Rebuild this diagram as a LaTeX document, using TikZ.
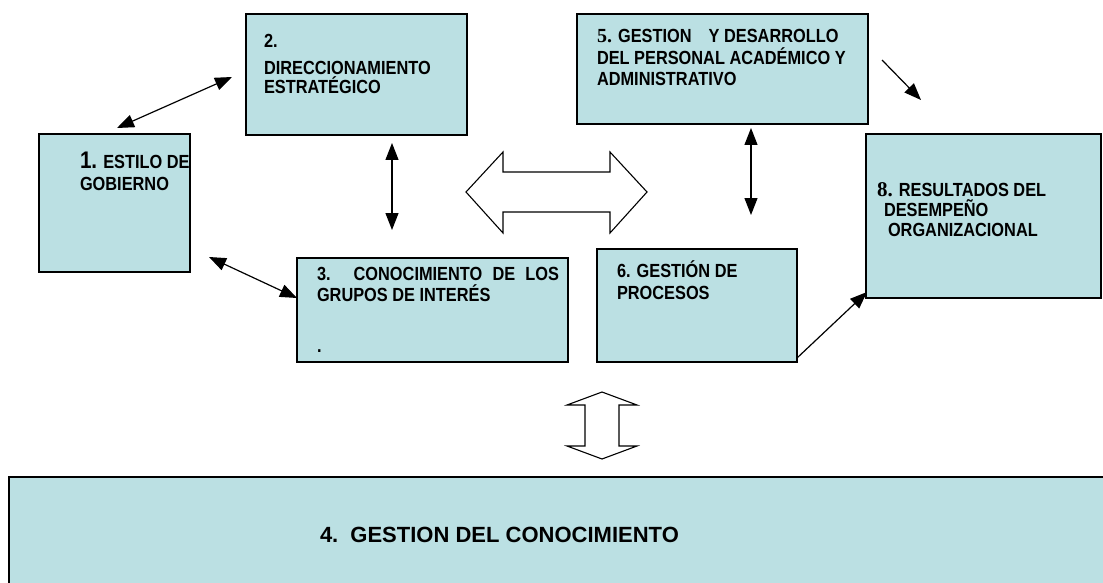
\documentclass[tikz,border=0pt]{standalone}
\usepackage{fontspec}
\setmainfont{Liberation Sans}
\newfontfamily\narrowsans[FakeStretch=0.86]{Liberation Sans}
\newfontfamily\serifnum{Liberation Serif}
\usetikzlibrary{arrows.meta}
\definecolor{boxfill}{RGB}{187,224,227}
\begin{document}
\begin{tikzpicture}[x=1pt,y=-1pt,
  box/.style={draw=black, line width=1.4pt, fill=boxfill, inner sep=0pt, outer sep=0pt, anchor=north west},
  txt/.style={anchor=base west, inner sep=0pt, outer sep=0pt, font=\narrowsans\bfseries\fontsize{19}{21}\selectfont},
  bigtxt/.style={anchor=base west, inner sep=0pt, outer sep=0pt, font=\bfseries\fontsize{22}{24}\selectfont},
  conn/.style={line width=1.2pt, {Triangle[length=17pt,width=13pt]}-{Triangle[length=17pt,width=13pt]}},
  oneway/.style={line width=1.2pt, -{Triangle[length=17pt,width=13pt]}},
  hollow/.style={draw=black, line width=1.1pt, fill=white, line join=miter}]
\useasboundingbox (0,0) rectangle (1103,583);

% boxes
\node[box, minimum width=151pt, minimum height=138pt] (b1) at (39,134) {};
\node[box, minimum width=221pt, minimum height=121pt] (b2) at (246,14) {};
\node[box, minimum width=271pt, minimum height=104pt] (b3) at (297,258) {};
\node[box, minimum width=1110pt, minimum height=130pt] (b4) at (9,477) {};
\node[box, minimum width=291pt, minimum height=110pt] (b5) at (577,14) {};
\node[box, minimum width=200pt, minimum height=113pt] (b6) at (597,249) {};
\node[box, line width=1.8pt, minimum width=235pt, minimum height=164pt] (b8) at (866,134) {};

% texts
\node[txt] (t1a) at (80,168) {{\fontsize{24}{24}\selectfont 1.} ESTILO DE};
\node[txt] (t1b) at (80,190) {GOBIERNO};

\node[txt] (t2a) at (264,48) {2.};
\node[txt] (t2b) at (264,75) {DIRECCIONAMIENTO};
\node[txt] (t2c) at (264,94) {ESTRATÉGICO};

\node[txt] (t3a) at (317,280) {\makebox[242pt][s]{3. CONOCIMIENTO DE LOS}};
\node[txt] (t3b) at (317,301) {GRUPOS DE INTERÉS};
\node[txt] (t3c) at (317,352) {.};

\node[bigtxt] (t4) at (320,542) {4.\hspace{0.55em}GESTION DEL CONOCIMIENTO};

\node[txt] (t5a) at (597,43) {{\serifnum\bfseries\fontsize{20}{20}\selectfont 5.} GESTION\hspace{0.9em}Y DESARROLLO};
\node[txt] (t5b) at (597,65) {DEL PERSONAL ACADÉMICO Y};
\node[txt] (t5c) at (597,86) {ADMINISTRATIVO};

\node[txt] (t6a) at (617,277) {6. GESTIÓN DE};
\node[txt] (t6b) at (617,299) {PROCESOS};

\node[txt] (t8a) at (877,196) {{\serifnum\bfseries\fontsize{21}{21}\selectfont 8.} RESULTADOS DEL};
\node[txt] (t8b) at (884,216) {DESEMPEÑO};
\node[txt] (t8c) at (888,236) {ORGANIZACIONAL};

% connector end points
\coordinate (c12a) at (117,128);
\coordinate (c12b) at (232,77);
\coordinate (c13a) at (209,257);
\coordinate (c13b) at (297,298);
\coordinate (c23a) at (392,143);
\coordinate (c23b) at (392,230);
\coordinate (c56a) at (751,128);
\coordinate (c56b) at (751,215);
\coordinate (c58a) at (882,60);
\coordinate (c58b) at (921,100);
\coordinate (c68a) at (797,358);
\coordinate (c68b) at (867,292);

\draw[conn] (c12a) -- (c12b);
\draw[conn] (c13a) -- (c13b);
\draw[conn] (c23a) -- (c23b);
\draw[conn] (c56a) -- (c56b);
\draw[oneway] (c58a) -- (c58b);
\draw[oneway] (c68a) -- (c68b);

% hollow double arrows
\draw[hollow] (466,192) -- (503,152) -- (503,172) -- (610,172) -- (610,152) -- (647,192)
  -- (610,233) -- (610,212) -- (503,212) -- (503,233) -- cycle;
\draw[hollow] (602,392) -- (637,405) -- (619,405) -- (619,446) -- (637,446) -- (602,459)
  -- (567,446) -- (585,446) -- (585,405) -- (567,405) -- cycle;
\end{tikzpicture}
\end{document}
